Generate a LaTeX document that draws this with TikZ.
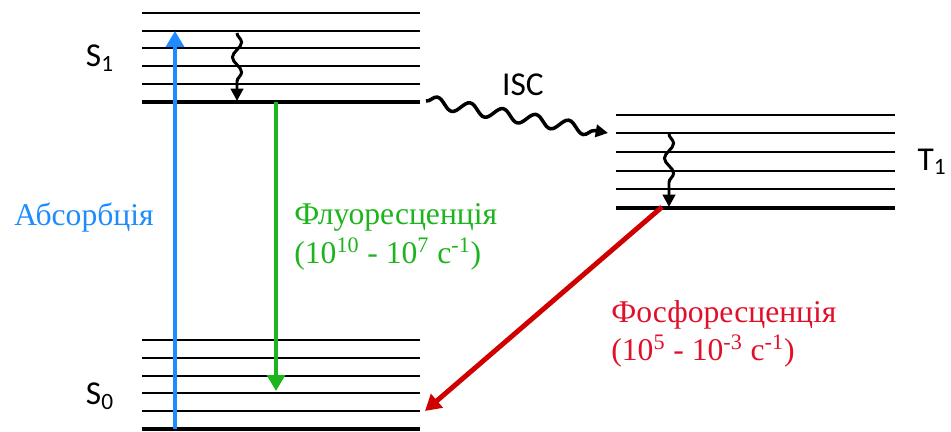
\documentclass[tikz,border=0pt]{standalone}
\usepackage{fontspec}
\setmainfont{Liberation Serif}
\newfontfamily\calibrifont{Carlito}
\usetikzlibrary{arrows.meta,decorations.pathmorphing}
\definecolor{absblue}{HTML}{1E8CFF}
\definecolor{flgreen}{HTML}{1DB41D}
\definecolor{phred}{HTML}{D00000}
\definecolor{phtext}{HTML}{E0102A}

\begin{document}
\begin{tikzpicture}[x=0.02cm, y=-0.02cm,
  level/.style={line width=1.5pt},
  ground/.style={line width=2.8pt},
  radiative/.style={line width=2.8pt, -{Triangle[width=10pt,length=9pt]}},
  wavy/.style={line width=1.7pt, -{Triangle[width=7pt,length=7pt]}, decorate,
    decoration={snake, amplitude=2.6pt, segment length=17pt, post length=7pt}},
  state/.style={font=\calibrifont\fontsize{19}{22}\selectfont, inner sep=0pt},
  rate/.style={font=\fontsize{18}{22}\selectfont, align=left, inner sep=0pt}]
  \useasboundingbox (0,0) rectangle (951,432);

  % Levels
  \foreach \y in {13,31,48,66,84} \draw[level] (142,\y) -- (420,\y);
  \draw[ground] (142,102) -- (420,102);
  \foreach \y in {340,358,376,393,411} \draw[level] (142,\y) -- (420,\y);
  \draw[ground] (142,429) -- (420,429);
  \foreach \y in {115,133,152,171,189} \draw[level] (616,\y) -- (895,\y);
  \draw[ground] (616,208) -- (895,208);

  % Ends of transitions
  \coordinate (absfrom) at (175,429);
  \coordinate (absto) at (175,31);
  \coordinate (flfrom) at (276,102);
  \coordinate (flto) at (276,391);
  \coordinate (phfrom) at (662,207);
  \coordinate (phto) at (425,411);
  \coordinate (iscfrom) at (426,101);
  \coordinate (iscto) at (608,133);
  \coordinate (icsfrom) at (237,33);
  \coordinate (icsto) at (237,101);
  \coordinate (ictfrom) at (669,134);
  \coordinate (icto) at (669,207);

  % Transitions
  \draw[radiative, absblue] (absfrom) -- (absto);
  \draw[radiative, flgreen] (flfrom) -- (flto);
  \draw[radiative, phred] (phfrom) -- (phto);
  \draw[wavy] (icsfrom) -- (icsto);
  \draw[wavy] (ictfrom) -- (icto);
  \draw[wavy, line width=2pt, decoration={amplitude=3.3pt, segment length=19pt}] (iscfrom) -- (iscto);

  % Labels
  \node[state] (s1) at (100,58) {S\textsubscript{1}};
  \node[state] (s0) at (100,396) {S\textsubscript{0}};
  \node[state] (t1) at (932,162) {T\textsubscript{1}};
  \node[state] (isc) at (523,85) {ISC};
  \node[rate, text=absblue] (abs) at (84,218) {Абсорбція};
  \node[rate, text=flgreen, anchor=west] (fl) at (294,237)
    {Флуоресценція\\(10\textsuperscript{10} - 10\textsuperscript{7} с\textsuperscript{-1})};
  \node[rate, text=phtext, anchor=west] (ph) at (611,334)
    {Фосфоресценція\\(10\textsuperscript{5} - 10\textsuperscript{-3} с\textsuperscript{-1})};
\end{tikzpicture}
\end{document}
